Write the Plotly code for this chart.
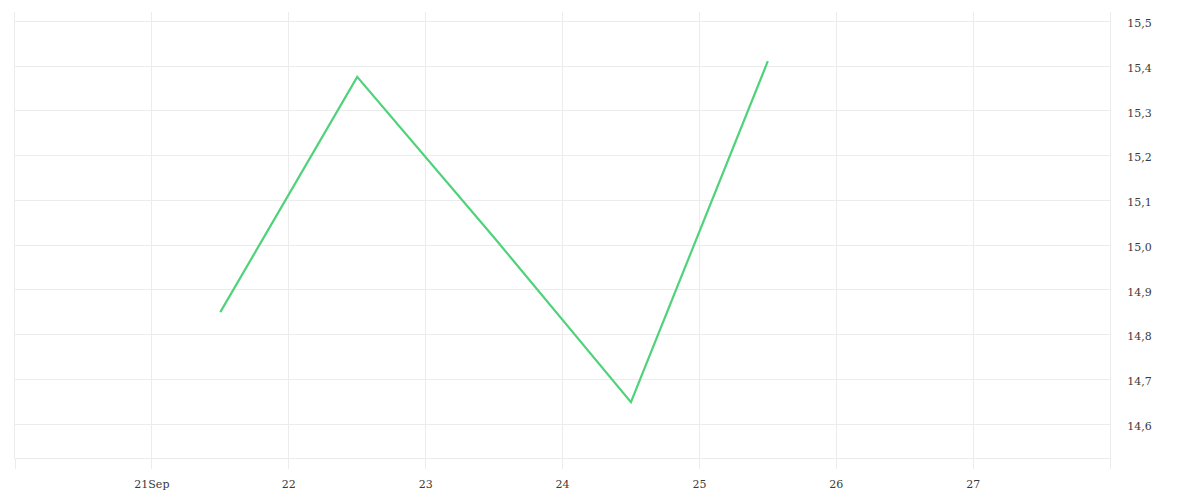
import plotly.graph_objects as go

dates = ["2023-09-21 12:00", "2023-09-22 12:00", "2023-09-23 12:00", "2023-09-24 12:00", "2023-09-25 12:00"]
values = [14.85, 15.376, 15.017, 14.649, 15.411]

tick_dates = ["2023-09-20", "2023-09-21", "2023-09-22", "2023-09-23", "2023-09-24",
              "2023-09-25", "2023-09-26", "2023-09-27", "2023-09-28"]
tick_text = ["", "21Sep", "22", "23", "24", "25", "26", "27", ""]
y_ticks = [14.6, 14.7, 14.8, 14.9, 15.0, 15.1, 15.2, 15.3, 15.4, 15.5]

fig = go.Figure()
fig.add_trace(go.Scatter(x=dates, y=values, mode="lines",
                         line=dict(color="#4fd27a", width=2.2), hoverinfo="x+y"))

grid = "#ececec"
font = dict(family="DejaVu Serif", size=11, color="#3a3a3a")
fig.update_layout(
    width=1200, height=500,
    margin=dict(l=7, r=98, t=4, b=50),
    paper_bgcolor="white", plot_bgcolor="white",
    separators=",.",
    showlegend=False,
    font=font,
    xaxis=dict(
        type="date",
        range=["2023-09-20", "2023-09-28"],
        tickvals=tick_dates, ticktext=tick_text,
        showgrid=True, gridcolor=grid, gridwidth=1,
        ticks="outside", ticklen=10, tickcolor=grid, tickwidth=1,
        ticklabelstandoff=6,
        showline=True, linecolor=grid, linewidth=1, mirror=False,
        zeroline=False, tickfont=font,
    ),
    yaxis=dict(
        side="right",
        range=[14.524, 15.521],
        tickvals=y_ticks, tickformat=".1f",
        showgrid=True, gridcolor=grid, gridwidth=1,
        ticks="outside", ticklen=14, tickcolor="rgba(0,0,0,0)",
        ticklabelshift=2,
        showline=True, linecolor=grid, linewidth=1, mirror=True,
        zeroline=False, tickfont=font,
    ),
)
fig.write_html("out.html")
